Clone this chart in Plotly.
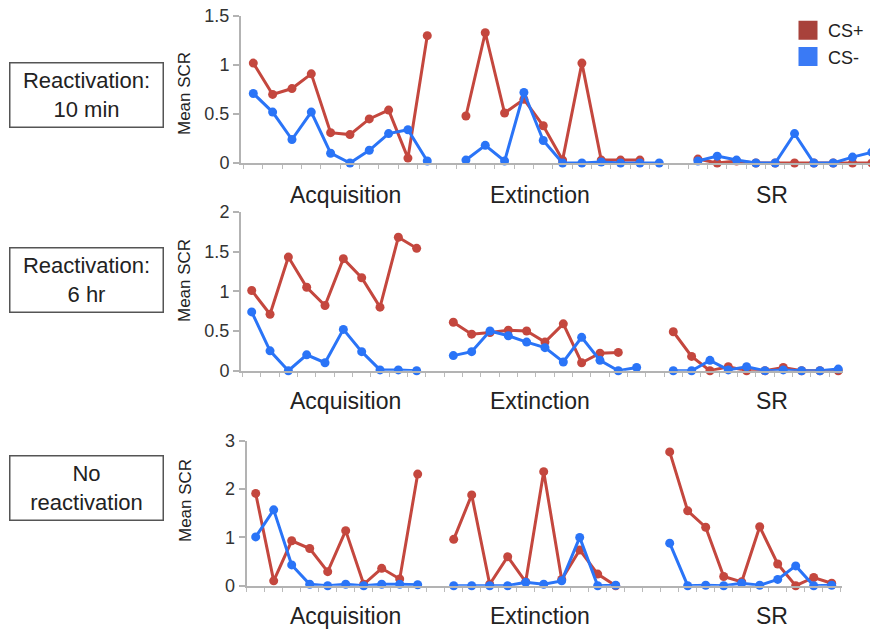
import plotly.graph_objects as go

# ---------------- data ----------------
panels = ["Reactivation:<br>10 min", "Reactivation:<br>6 hr", "No<br>reactivation"]
phases = ["Acquisition", "Extinction", "SR"]
phase_start = [0, 11, 23]  # trial index where each phase begins

# Panel 1: Reactivation 10 min
p1_acq_csp = [1.02, 0.70, 0.76, 0.91, 0.31, 0.29, 0.45, 0.54, 0.05, 1.30]
p1_acq_csm = [0.71, 0.52, 0.24, 0.52, 0.10, 0.00, 0.13, 0.30, 0.34, 0.02]
p1_ext_csp = [0.48, 1.33, 0.51, 0.65, 0.38, 0.03, 1.02, 0.03, 0.03, 0.03]
p1_ext_csm = [0.03, 0.18, 0.02, 0.72, 0.23, 0.00, 0.00, 0.01, 0.00, 0.00, 0.00]
p1_sr_csp = [0.04, 0.00, 0.02, 0.00, 0.00, 0.00, 0.00, 0.00, 0.00, 0.00]
p1_sr_csm = [0.02, 0.07, 0.03, 0.00, 0.00, 0.30, 0.00, 0.00, 0.06, 0.11]

# Panel 2: Reactivation 6 hr
p2_acq_csp = [1.01, 0.71, 1.43, 1.05, 0.82, 1.41, 1.17, 0.80, 1.68, 1.54]
p2_acq_csm = [0.74, 0.25, 0.00, 0.20, 0.10, 0.52, 0.24, 0.01, 0.01, 0.00]
p2_ext_csp = [0.61, 0.46, 0.48, 0.51, 0.50, 0.36, 0.59, 0.10, 0.22, 0.23]
p2_ext_csm = [0.19, 0.24, 0.50, 0.44, 0.36, 0.29, 0.11, 0.42, 0.13, 0.00, 0.04]
p2_sr_csp = [0.49, 0.18, 0.00, 0.05, 0.00, 0.00, 0.04, 0.00, 0.00, 0.00]
p2_sr_csm = [0.00, 0.00, 0.13, 0.01, 0.05, 0.00, 0.01, 0.00, 0.00, 0.02]

# Panel 3: No reactivation
p3_acq_csp = [1.91, 0.10, 0.93, 0.77, 0.29, 1.14, 0.03, 0.36, 0.14, 2.31]
p3_acq_csm = [1.01, 1.57, 0.43, 0.03, 0.00, 0.03, 0.00, 0.03, 0.03, 0.02]
p3_ext_csp = [0.96, 1.88, 0.03, 0.60, 0.08, 2.36, 0.13, 0.74, 0.24, 0.00]
p3_ext_csm = [0.00, 0.00, 0.00, 0.00, 0.07, 0.03, 0.10, 1.00, 0.00, 0.01]
p3_sr_csp = [2.77, 1.55, 1.21, 0.19, 0.08, 1.22, 0.45, 0.00, 0.17, 0.05]
p3_sr_csm = [0.88, 0.00, 0.01, 0.00, 0.05, 0.01, 0.13, 0.41, 0.00, 0.01]

y_ticks = [[0, 0.5, 1, 1.5], [0, 0.5, 1, 1.5, 2], [0, 1, 2, 3]]
y_tick_text = [["0", "0.5", "1", "1.5"], ["0", "0.5", "1", "1.5", "2"], ["0", "1", "2", "3"]]
y_max = [1.5, 2, 3]

series = [
    [(p1_acq_csp, p1_ext_csp, p1_sr_csp), (p1_acq_csm, p1_ext_csm, p1_sr_csm)],
    [(p2_acq_csp, p2_ext_csp, p2_sr_csp), (p2_acq_csm, p2_ext_csm, p2_sr_csm)],
    [(p3_acq_csp, p3_ext_csp, p3_sr_csp), (p3_acq_csm, p3_ext_csm, p3_sr_csm)],
]
series_names = ["CS+", "CS-"]

# ---------------- style / layout ----------------
OFF = 8                      # page body margin
W, H = 878 - OFF, 630 - OFF  # figure size so that the page exactly fills the window
RED = "#c4473e"
BLUE = "#2a74f7"
colors = [RED, BLUE]
legend_colors = ["#a8423b", "#3a7af5"]
FONT = "Liberation Sans, Arial, Helvetica, sans-serif"
AXIS = "#b3b3b3"

# pixel geometry of each panel (page pixels):
# (x_left, x_right, y_top, y_bottom, x of trial 0, trial spacing)
geom = [
    (241, 878, 16, 163, 253.3, 19.33),
    (241, 843, 211.7, 370.7, 251.7, 18.33),
    (246.7, 842, 440.7, 585.7, 255.7, 18.0),
]
box_y = [94.5, 280.3, 487.8]
ytitle_y = [94, 281, 501]
label_y = [195, 401, 616]
label_x = [345, 540, 772]


def px_x(p):
    return (p - OFF) / W


def px_y(p):
    return 1 - (p - OFF) / H


fig = go.Figure()

for i in range(3):
    xa = "x" if i == 0 else f"x{i+1}"
    ya = "y" if i == 0 else f"y{i+1}"
    for s in range(2):
        xs, ys = [], []
        for ph in range(3):
            vals = series[i][s][ph]
            xs += [phase_start[ph] + k for k in range(len(vals))] + [None]
            ys += list(vals) + [None]
        fig.add_trace(go.Scatter(
            x=xs, y=ys, xaxis=xa, yaxis=ya, mode="lines+markers",
            line=dict(color=colors[s], width=3),
            marker=dict(color=colors[s], size=9),
            cliponaxis=False, showlegend=False, name=series_names[s],
        ))

# legend entries
for s in range(2):
    fig.add_trace(go.Scatter(
        x=[None], y=[None], mode="markers", name=series_names[s],
        marker=dict(symbol="square", size=16, color=legend_colors[s],
                    line=dict(color=legend_colors[s], width=3)),
        showlegend=True,
    ))

layout = dict(
    template="none",
    width=W, height=H, autosize=False,
    margin=dict(l=0, r=0, t=0, b=0, pad=0, autoexpand=False),
    paper_bgcolor="white", plot_bgcolor="white",
    font=dict(family=FONT, color="#222"),
    showlegend=True,
    legend=dict(x=px_x(788), y=px_y(12), xanchor="left", yanchor="top",
                font=dict(size=18, family=FONT, color="#222"),
                bgcolor="rgba(0,0,0,0)", itemwidth=30, tracegroupgap=0),
)

annotations = []
for i in range(3):
    xl, xr, yt, yb, x0, dx = geom[i]
    xkey = "xaxis" if i == 0 else f"xaxis{i+1}"
    ykey = "yaxis" if i == 0 else f"yaxis{i+1}"
    yname = "y" if i == 0 else f"y{i+1}"
    xname = "x" if i == 0 else f"x{i+1}"
    layout[xkey] = dict(
        domain=[px_x(xl), min(px_x(xr), 1.0)],
        range=[(xl - x0) / dx, (xr - x0) / dx],
        anchor=yname, showgrid=False, zeroline=False, automargin=False,
        showline=True, linecolor=AXIS, linewidth=2,
        tickmode="linear", tick0=0.5, dtick=1,
        ticks="outside", ticklen=4, tickwidth=1, tickcolor="#bbbbbb",
        showticklabels=False,
    )
    layout[ykey] = dict(
        domain=[px_y(yb), px_y(yt)],
        range=[0, y_max[i] * 1.0005], anchor=xname, automargin=False,
        showgrid=False, zeroline=False,
        showline=True, linecolor=AXIS, linewidth=2,
        tickmode="array", tickvals=y_ticks[i], ticktext=y_tick_text[i],
        ticks="outside", ticklen=6, tickwidth=1.5, tickcolor=AXIS,
        ticklabeloverflow="allow",
        tickfont=dict(size=18, family=FONT, color="#333"),
    )
    # left-side condition box
    annotations.append(dict(
        x=px_x(86.7), y=px_y(box_y[i]), xref="paper", yref="paper",
        text=panels[i], showarrow=False, xanchor="center", yanchor="middle",
        width=152, height=63, align="center", valign="middle",
        bordercolor="#555", borderwidth=1.5, borderpad=0, bgcolor="white",
        font=dict(size=22, family=FONT, color="#222"),
    ))
    # y-axis title
    annotations.append(dict(
        x=px_x(185), y=px_y(ytitle_y[i]), xref="paper", yref="paper",
        text="Mean SCR", textangle=-90, showarrow=False,
        xanchor="center", yanchor="middle",
        font=dict(size=17, family=FONT, color="#222"),
    ))
    # phase labels
    for ph in range(3):
        annotations.append(dict(
            x=px_x(label_x[ph]), y=px_y(label_y[i]), xref="paper", yref="paper",
            text=phases[ph], showarrow=False, xanchor="center", yanchor="middle",
            font=dict(size=23, family=FONT, color="#222"),
        ))

layout["annotations"] = annotations
fig.update_layout(**layout)

fig.write_html("out.html")
